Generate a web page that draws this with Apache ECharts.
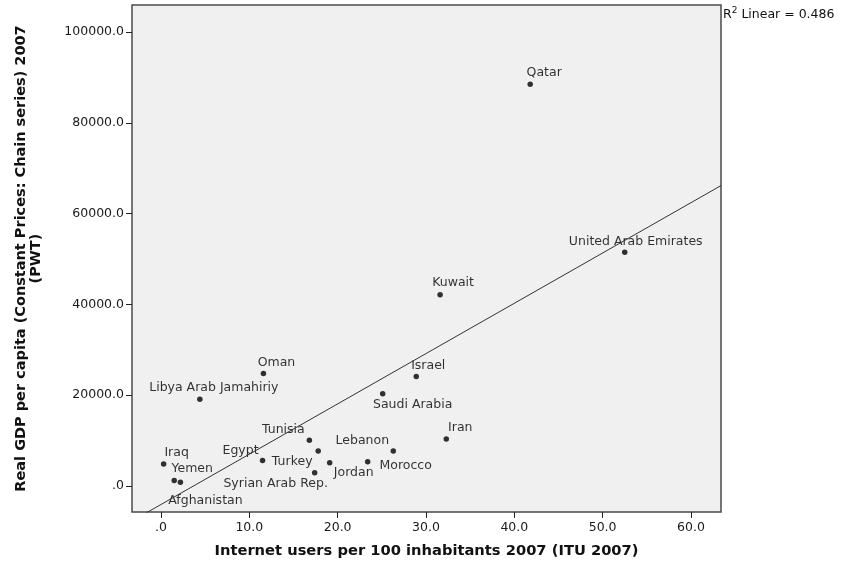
<!DOCTYPE html>
<html>
<head>
<meta charset="utf-8">
<script src="https://cdn.jsdelivr.net/npm/echarts@6/dist/echarts.min.js"></script>
<style>
  html, body { margin: 0; padding: 0; background: #fff; }
  #main { width: 841px; height: 567px; }
</style>
</head>
<body>
<div id="main"></div>
<script>
// countries, internet users per 100 (x) and real GDP per capita (y)
var countries = ['Qatar', 'United Arab Emirates', 'Kuwait', 'Oman', 'Libya Arab Jamahiriy', 'Israel',
  'Saudi Arabia', 'Iran', 'Tunisia', 'Turkey', 'Lebanon', 'Egypt', 'Jordan', 'Morocco',
  'Syrian Arab Rep.', 'Iraq', 'Yemen', 'Afghanistan'];
var internetUsers = [41.8, 52.5, 31.6, 11.6, 4.4, 28.9, 25.1, 32.3, 16.8, 17.8, 26.3, 11.5, 19.1, 23.4, 17.4, 0.3, 1.5, 2.2];
var gdpPerCapita = [88500, 51500, 42100, 24800, 19100, 24100, 20300, 10350, 10100, 7700, 7700, 5600, 5100, 5350, 2900, 4850, 1200, 800];

// fit line: y = intercept + slope * x
var fitIntercept = -4075;
var fitSlope = 1108;
var rSquared = 0.486;

var xTicks = [0, 10, 20, 30, 40, 50, 60];
var yTicks = [0, 20000, 40000, 60000, 80000, 100000];

var xMin = -3.28, xMax = 63.4;
var yMin = -5727, yMax = 105950;

// label placement around each dot (pixels, label centre relative to the dot)
var labelOffsets = {
  'Qatar': [14, -11],
  'United Arab Emirates': [11, -10],
  'Kuwait': [13, -12],
  'Oman': [13, -11],
  'Libya Arab Jamahiriy': [14, -12],
  'Israel': [12, -11],
  'Saudi Arabia': [30, 11],
  'Iran': [14, -11],
  'Tunisia': [-26, -10],
  'Turkey': [-26, 11],
  'Lebanon': [-31, -10],
  'Egypt': [-22, -10],
  'Jordan': [24, 10],
  'Morocco': [38, 4],
  'Syrian Arab Rep.': [-39, 11],
  'Iraq': [13, -11],
  'Yemen': [18, -12],
  'Afghanistan': [25, 18]
};

var font = '"DejaVu Sans", Arial, sans-serif';

function fmt(v) {
  return v === 0 ? '.0' : v.toFixed(1);
}

var points = countries.map(function (name, i) {
  return {
    name: name,
    value: [internetUsers[i], gdpPerCapita[i]],
    label: { offset: labelOffsets[name] }
  };
});

var chart = echarts.init(document.getElementById('main'));
chart.setOption({
  animation: false,
  backgroundColor: '#fff',
  textStyle: { fontFamily: font },
  grid: {
    left: 132, top: 5, right: 120, bottom: 55,
    show: true,
    backgroundColor: '#f0f0f0',
    borderColor: '#4a4a4a',
    borderWidth: 1.5
  },
  xAxis: {
    type: 'value',
    min: xMin, max: xMax,
    name: 'Internet users per 100 inhabitants 2007 (ITU 2007)',
    nameLocation: 'middle',
    nameGap: 32,
    nameTextStyle: { fontSize: 14.7, fontWeight: 'bold', color: '#111', fontFamily: font },
    axisLine: { show: false, onZero: false },
    splitLine: { show: false },
    axisTick: { show: true, length: 6, customValues: xTicks, lineStyle: { color: '#222' } },
    axisLabel: { customValues: xTicks, formatter: fmt, fontSize: 12.5, color: '#1a1a1a', margin: 9 }
  },
  yAxis: {
    type: 'value',
    min: yMin, max: yMax,
    name: 'Real GDP per capita (Constant Prices: Chain series) 2007\n(PWT)',
    nameLocation: 'middle',
    nameRotate: 90,
    nameGap: 88,
    nameTextStyle: { fontSize: 14.5, fontWeight: 'bold', color: '#111', fontFamily: font, lineHeight: 15 },
    axisLine: { show: false, onZero: false },
    splitLine: { show: false },
    axisTick: { show: true, length: 6, customValues: yTicks, lineStyle: { color: '#222' } },
    axisLabel: { customValues: yTicks, formatter: fmt, fontSize: 12.5, color: '#1a1a1a', margin: 8 }
  },
  series: [
    {
      type: 'line',
      data: [[xMin, fitIntercept + fitSlope * xMin], [xMax, fitIntercept + fitSlope * xMax]],
      symbol: 'none',
      clip: true,
      lineStyle: { color: '#333', width: 1 },
      silent: true
    },
    {
      type: 'scatter',
      data: points,
      symbolSize: 5.5,
      itemStyle: { color: '#000' },
      label: {
        show: true,
        position: 'inside',
        formatter: '{b}',
        fontSize: 12.5,
        color: '#000',
        textBorderWidth: 0,
        fontFamily: font
      }
    }
  ],
  graphic: [
    {
      type: 'text',
      left: 723,
      top: 6,
      style: {
        text: '{r|R}{s|2}{r| Linear = ' + rSquared.toFixed(3) + '}',
        rich: {
          r: { fontSize: 12.5, fill: '#111', fontFamily: font, verticalAlign: 'bottom' },
          s: { fontSize: 9, fill: '#111', fontFamily: font, verticalAlign: 'top', padding: [0, 0, 6, 0] }
        }
      }
    }
  ]
});
</script>
</body>
</html>
